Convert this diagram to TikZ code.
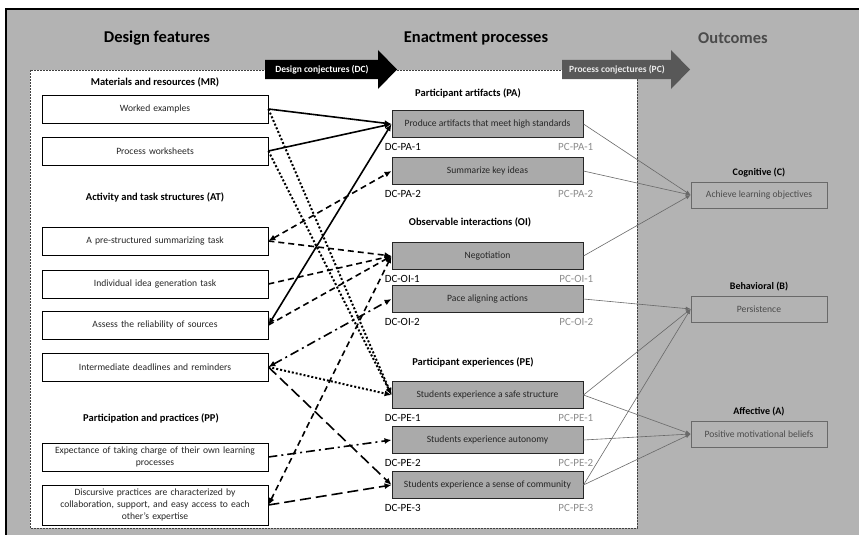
\documentclass[tikz,border=0pt]{standalone}
\usepackage{fontspec}
\setmainfont{Carlito}
\usepackage{tikz}
\usetikzlibrary{arrows.meta,positioning}
\definecolor{framegray}{RGB}{179,179,179}
\definecolor{procgray}{RGB}{170,170,170}
\definecolor{edgegray}{RGB}{105,105,105}
\definecolor{outtext}{RGB}{75,75,75}
\definecolor{pcgray}{RGB}{140,140,140}
\definecolor{pcarrow}{RGB}{88,88,88}

\begin{document}
\begin{tikzpicture}[
  x=1pt, y=-1pt,
  featbox/.style={rectangle, draw=black, line width=0.8pt, fill=white, minimum width=226pt, minimum height=28pt, text width=218pt, align=center, inner sep=1pt, font=\fontsize{9.6}{12}\selectfont, text=black!85},
  procbox/.style={rectangle, draw=black!85, line width=0.9pt, fill=procgray, minimum width=191pt, minimum height=27pt, align=center, font=\fontsize{9.6}{12}\selectfont, text=black!85},
  outbox/.style={rectangle, draw=edgegray, line width=0.7pt, fill=framegray, minimum width=136pt, minimum height=26pt, align=center, font=\fontsize{9.6}{12}\selectfont, text=outtext},
  colhead/.style={font=\fontsize{16.5}{20}\selectfont\bfseries, inner sep=0pt},
  grphead/.style={font=\fontsize{10.5}{13}\selectfont\bfseries, inner sep=0pt},
  dclbl/.style={font=\fontsize{11}{13}\selectfont, inner sep=0pt, anchor=base west},
  pclbl/.style={font=\fontsize{11}{13}\selectfont, inner sep=0pt, anchor=base east, text=pcgray},
  conjlbl/.style={font=\fontsize{9.5}{12}\selectfont\bfseries, inner sep=0pt},
  link/.style={line width=1.6pt, -{Latex[length=7pt,width=6pt]}},
  twoway/.style={{Latex[length=7pt,width=6pt]}-{Latex[length=7pt,width=6pt]}},
  dashlink/.style={link, dash pattern=on 6pt off 4pt},
  longdashlink/.style={link, dash pattern=on 11pt off 5pt},
  dotlink/.style={link, line width=2pt, dash pattern=on 2pt off 2pt},
  dashdotlink/.style={link, dash pattern=on 9pt off 4pt on 2pt off 4pt},
  outlink/.style={draw=edgegray, line width=0.6pt, -{Latex[length=5pt,width=4pt]}}
]
\useasboundingbox (0,0) rectangle (859,535);

% frame and white area
\fill[framegray] (6,9) rectangle (859,535);
\draw[line width=2.6pt] (6,535) -- (6,9) -- (859,9);
\draw[dash pattern=on 2pt off 1pt, draw=black!75, line width=0.6pt, fill=white] (30,70) rectangle (637,528);

% conjecture arrows
\fill[black] (265,60) -- (378,60) -- (378,50) -- (397,69.5) -- (378,89) -- (378,79) -- (265,79) -- cycle;
\node[conjlbl, text=white] (dc) at (322,69.5) {Design conjectures (DC)};
\fill[pcarrow] (562,60) -- (671,60) -- (671,50) -- (690,69.5) -- (671,89) -- (671,79) -- (562,79) -- cycle;
\node[conjlbl, text=white!92!black] (pc) at (617,69.5) {Process conjectures (PC)};

% column headings
\node[colhead] (hdf) at (157,38) {Design features};
\node[colhead] (hep) at (476,38) {Enactment processes};
\node[colhead, text=outtext] (hoc) at (733,38) {Outcomes};

% design features
\node[grphead] (hmr) at (155,82) {Materials and resources (MR)};
\node[featbox] (we) at (155,109) {Worked examples};
\node[featbox] (pw) at (155,151) {Process worksheets};
\node[grphead] (hat) at (155,197) {Activity and task structures (AT)};
\node[featbox] (ps) at (155,241) {A pre-structured summarizing task};
\node[featbox] (ig) at (155,284) {Individual idea generation task};
\node[featbox] (ar) at (155,325) {Assess the reliability of sources};
\node[featbox] (id) at (155,367) {Intermediate deadlines and reminders};
\node[grphead] (hpp) at (151,418) {Participation and practices (PP)};
\node[featbox] (ex) at (155,457) {Expectance of taking charge of their own learning\\processes};
\node[featbox, minimum height=40pt] (dp) at (155,505) {Discursive practices are characterized by\\collaboration, support, and easy access to each\\other’s expertise};

% enactment processes
\node[grphead] (hpa) at (468,93) {Participant artifacts (PA)};
\node[procbox] (pa1) at (487.5,124) {Produce artifacts that meet high standards};
\node[procbox] (pa2) at (487.5,171) {Summarize key ideas};
\node[grphead] (hoi) at (470,222) {Observable interactions (OI)};
\node[procbox] (oi1) at (487.5,256) {Negotiation};
\node[procbox] (oi2) at (487.5,299) {Pace aligning actions};
\node[grphead] (hpe) at (473,362) {Participant experiences (PE)};
\node[procbox] (pe1) at (487.5,395) {Students experience a safe structure};
\node[procbox] (pe2) at (487.5,440) {Students experience autonomy};
\node[procbox] (pe3) at (487.5,485) {Students experience a sense of community};

\foreach \p/\t in {pa1/PA-1, pa2/PA-2, oi1/OI-1, oi2/OI-2, pe1/PE-1, pe2/PE-2, pe3/PE-3} {
  \node[dclbl] (dc-\p) at ([shift={(-7,12.5)}]\p.south west) {DC-\t};
  \node[pclbl] (pc-\p) at ([shift={(10,12.5)}]\p.south east) {PC-\t};
}

% outcomes
\node[outbox] (cog) at (759,195) {Achieve learning objectives};
\node[outbox] (beh) at (759,309) {Persistence};
\node[outbox] (aff) at (759,434) {Positive motivational beliefs};
\node[grphead, font=\fontsize{10}{12}\selectfont\bfseries, above=4pt of cog] (hcog) {Cognitive (C)};
\node[grphead, font=\fontsize{10}{12}\selectfont\bfseries, above=4pt of beh] (hbeh) {Behavioral (B)};
\node[grphead, font=\fontsize{10}{12}\selectfont\bfseries, above=4pt of aff] (haff) {Affective (A)};

% design conjectures
\draw[link] (we.east) -- (pa1.west);
\draw[link] (pw.east) -- (pa1.west);
\draw[link, twoway] (ar.east) -- (pa1.west);
\draw[dotlink] (we.east) -- (pe1.west);
\draw[dotlink] (pw.east) -- (pe1.west);
\draw[dotlink] (id.east) -- (pe1.west);
\draw[dashlink, twoway] (ps.east) -- (pa2.west);
\draw[dashlink] (ps.east) -- (oi1.west);
\draw[dashlink] (ig.east) -- (oi1.west);
\draw[dashlink] (ar.east) -- (oi1.west);
\draw[dashlink, twoway] (dp.east) -- (oi1.west);
\draw[dashdotlink, twoway] (id.east) -- (oi2.west);
\draw[dashdotlink] (ex.east) -- (pe2.west);
\draw[longdashlink] (id.east) -- (pe3.west);
\draw[longdashlink] (dp.east) -- (pe3.west);

% process conjectures
\draw[outlink] (pa1.east) -- (cog.west);
\draw[outlink] (pa2.east) -- (cog.west);
\draw[outlink] (oi1.east) -- (cog.west);
\draw[outlink] (oi2.east) -- (beh.west);
\draw[outlink] (pe1.east) -- (beh.west);
\draw[outlink] (pe3.east) -- (beh.west);
\draw[outlink] (pe1.east) -- (aff.west);
\draw[outlink] (pe2.east) -- (aff.west);
\draw[outlink] (pe3.east) -- (aff.west);

\end{tikzpicture}
\end{document}
